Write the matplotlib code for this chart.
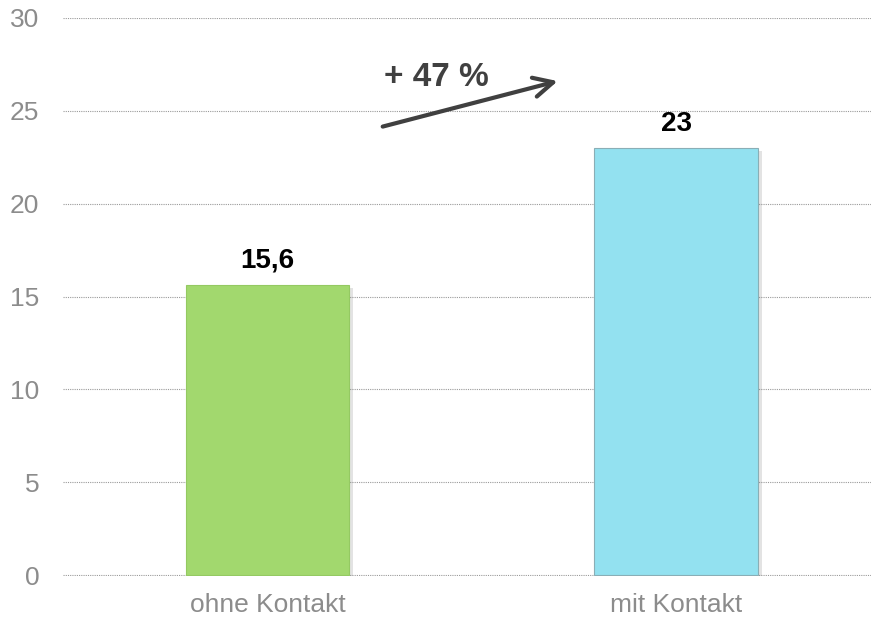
import matplotlib
matplotlib.use('Agg')
import matplotlib.pyplot as plt
import matplotlib.patheffects as pe

categories = ['ohne Kontakt', 'mit Kontakt']
values = [15.6, 23]
value_labels = ['15,6', '23']
bar_colors = ['#a2d86e', '#93e1f0']
edge_colors = ['#94c962', '#8aaeb6']
yticks = [0, 5, 10, 15, 20, 25, 30]

plt.rcParams['font.family'] = ['Liberation Sans', 'DejaVu Sans']

fig = plt.figure(figsize=(8.72, 6.19), dpi=100)
ax = fig.add_axes([0.0722, 0.0695, 0.927, 0.9015])

x = list(range(len(categories)))
bars = ax.bar(x, values, width=0.4, color=bar_colors, edgecolor=edge_colors,
              linewidth=0.8, zorder=3)
for b in bars:
    b.set_path_effects([
        pe.SimplePatchShadow(offset=(3, -2), shadow_rgbFace='gray', alpha=0.22),
        pe.Normal(),
    ])

for xi, v, lab in zip(x, values, value_labels):
    ax.annotate(lab, (xi, v), xytext=(0, 12.5), textcoords='offset points',
                ha='center', va='baseline', fontsize=20, fontweight='bold', color='black')

# growth arrow
ax.annotate('', xy=(0.71, 26.6), xytext=(0.282, 24.15),
            arrowprops=dict(arrowstyle='->,head_length=1.4,head_width=0.7',
                            color='#404040', lw=3, shrinkA=0, shrinkB=0), zorder=5)
ax.text(0.414, 26.34, '+ 47 %', ha='center', va='baseline', fontsize=24,
        fontweight='bold', color='#404040')

ax.set_xlim(-0.5, 1.477)
ax.set_ylim(-0.05, 30)
ax.set_yticks(yticks)
ax.set_xticks(x)
ax.set_xticklabels(categories)
ax.yaxis.grid(True, linestyle=(0, (1, 1)), color='#9a9a9a', linewidth=0.8, zorder=0)
ax.set_axisbelow(True)
for s in ax.spines.values():
    s.set_visible(False)
ax.tick_params(axis='y', length=0, pad=17, labelsize=19, labelcolor='#8c8c8c')
ax.tick_params(axis='x', length=0, pad=12, labelsize=19, labelcolor='#8c8c8c')

fig.savefig('out.png', dpi=100)
